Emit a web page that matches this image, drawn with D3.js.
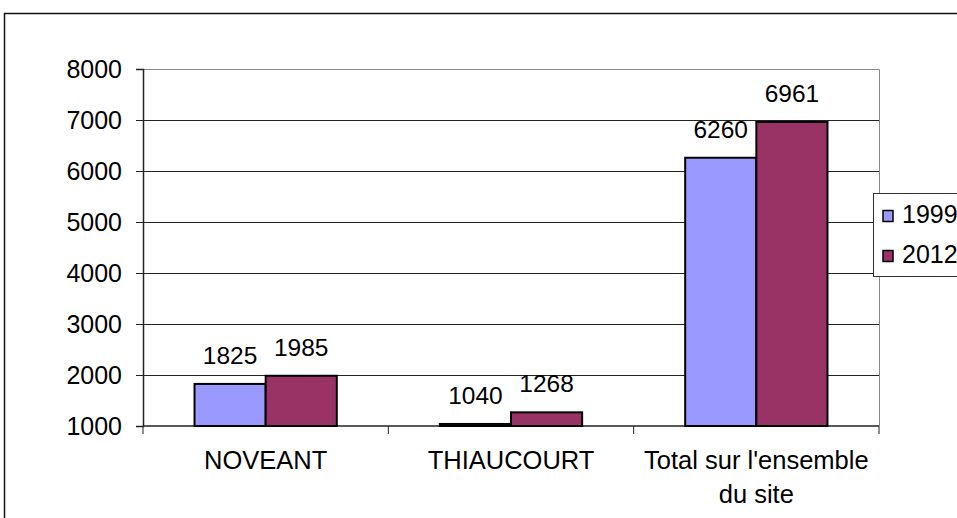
<!DOCTYPE html>
<html>
<head>
<meta charset="utf-8">
<script src="https://cdn.jsdelivr.net/npm/d3@7"></script>
<style>
  html, body { margin: 0; padding: 0; background: #fff; }
  svg { display: block; font-family: "Liberation Sans", Arial, sans-serif; }
</style>
</head>
<body>
<svg id="chart" width="957" height="518"></svg>
<script>
// Population by site, 1999 vs 2012
const categories = ["NOVEANT", "THIAUCOURT", "Total sur l'ensemble du site"];
const categoryLines = [["NOVEANT"], ["THIAUCOURT"], ["Total sur l'ensemble", "du site"]];
const seriesNames = ["1999", "2012"];
const values1999 = [1825, 1040, 6260];
const values2012 = [1985, 1268, 6961];
const yTicks = [1000, 2000, 3000, 4000, 5000, 6000, 7000, 8000];
const colors = ["#9999FF", "#993366"];

const seriesValues = [values1999, values2012];
const svg = d3.select("#chart");

const plot = { left: 143, right: 879, top: 69, bottom: 426 };

const y = d3.scaleLinear().domain([1000, 8000]).range([plot.bottom, plot.top]);
const x0 = d3.scaleBand().domain(categories).range([plot.left, plot.right]).padding(0);
const bw = x0.bandwidth();
const x1 = d3.scaleBand().domain(seriesNames).range([bw * 0.21, bw * 0.79]).padding(0);

// chart frame
svg.append("rect")
  .attr("x", 4.5).attr("y", 13.5)
  .attr("width", 1000).attr("height", 1000)
  .attr("fill", "#fff").attr("stroke", "#111").attr("stroke-width", 1.5);

// plot area border (top and right)
svg.append("path")
  .attr("d", `M${plot.left},${plot.top + 0.5}H${plot.right + 0.5}V${plot.bottom}`)
  .attr("fill", "none").attr("stroke", "#888").attr("stroke-width", 1);

// gridlines
svg.append("g")
  .selectAll("line")
  .data(yTicks.filter(t => t > 1000 && t < 8000))
  .join("line")
  .attr("x1", plot.left).attr("x2", plot.right)
  .attr("y1", d => Math.round(y(d)) + 0.5).attr("y2", d => Math.round(y(d)) + 0.5)
  .attr("stroke", "#222").attr("stroke-width", 1);

// y axis
const yAxis = d3.axisLeft(y).tickValues(yTicks).tickSize(7).tickPadding(14).tickFormat(d3.format("d"));
const gy = svg.append("g")
  .attr("transform", `translate(${plot.left},0)`)
  .call(yAxis);
gy.select(".domain").attr("stroke", "#222").attr("stroke-width", 1.5);
gy.selectAll(".tick line").attr("stroke", "#222");
gy.selectAll(".tick text")
  .attr("font-size", 25).attr("fill", "#000")
  .attr("font-family", "Liberation Sans, Arial, sans-serif");

// x axis baseline and category separators
svg.append("line")
  .attr("x1", plot.left).attr("x2", plot.right)
  .attr("y1", plot.bottom).attr("y2", plot.bottom)
  .attr("stroke", "#222").attr("stroke-width", 1.5);
const seps = categories.map(c => x0(c)).concat([plot.right]);
svg.append("g").selectAll("line").data(seps).join("line")
  .attr("x1", d => d).attr("x2", d => d)
  .attr("y1", plot.bottom).attr("y2", plot.bottom + 8)
  .attr("stroke", "#222").attr("stroke-width", 1);

// bars
const groups = svg.append("g").selectAll("g")
  .data(categories)
  .join("g")
  .attr("transform", d => `translate(${x0(d)},0)`);

groups.selectAll("rect")
  .data((d, i) => seriesNames.map((s, j) => ({ s, v: seriesValues[j][i], j })))
  .join("rect")
  .attr("x", d => x1(d.s))
  .attr("width", x1.bandwidth())
  .attr("y", d => y(d.v))
  .attr("height", d => plot.bottom - y(d.v))
  .attr("fill", d => colors[d.j])
  .attr("stroke", "#000").attr("stroke-width", 2);

// value labels
groups.selectAll("text.val")
  .data((d, i) => seriesNames.map((s, j) => ({ s, v: seriesValues[j][i] })))
  .join("text")
  .attr("class", "val")
  .attr("x", d => x1(d.s) + x1.bandwidth() / 2)
  .attr("y", d => y(d.v) - 20)
  .attr("text-anchor", "middle")
  .attr("font-size", 24.5)
  .text(d => d.v);

// category labels
svg.append("g").selectAll("text")
  .data(categories)
  .join("text")
  .attr("x", d => x0(d) + bw / 2)
  .attr("y", 469)
  .attr("text-anchor", "middle")
  .attr("font-size", 25.5)
  .each(function (d, i) {
    d3.select(this).selectAll("tspan")
      .data(categoryLines[i])
      .join("tspan")
      .attr("x", x0(d) + bw / 2)
      .attr("dy", (t, k) => k === 0 ? 0 : 34)
      .text(t => t);
  });

// legend
const legend = svg.append("g").attr("transform", "translate(873.5,193.5)");
legend.append("rect")
  .attr("width", 200).attr("height", 83)
  .attr("fill", "#fff").attr("stroke", "#333").attr("stroke-width", 1);
seriesNames.forEach((s, j) => {
  const row = legend.append("g").attr("transform", `translate(9.5,${17 + j * 40})`);
  row.append("rect").attr("width", 10).attr("height", 11)
    .attr("fill", colors[j]).attr("stroke", "#000").attr("stroke-width", 1.5);
  row.append("text").attr("x", 19).attr("y", 12)
    .attr("font-size", 25).text(s);
});
</script>
</body>
</html>
